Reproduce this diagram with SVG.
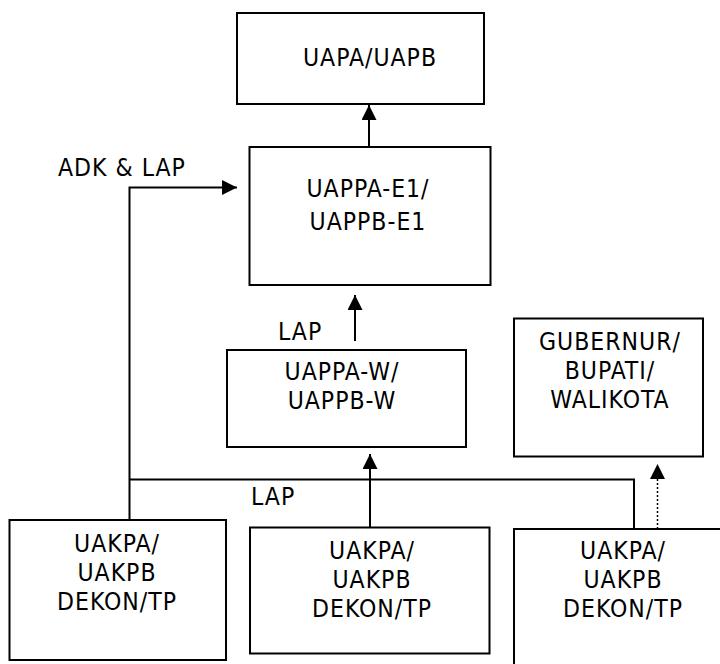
<svg xmlns="http://www.w3.org/2000/svg" width="720" height="664" viewBox="0 0 720 664">
<style>
.box{fill:#fff;stroke:#000;stroke-width:2}
.t{font-family:"DejaVu Sans Condensed","DejaVu Sans",sans-serif;font-stretch:condensed;font-size:24.5px;letter-spacing:1px;fill:#000}
.m{text-anchor:middle}
.c{fill:none;stroke:#000;stroke-width:2}
.d{fill:none;stroke:#000;stroke-width:1.5;stroke-dasharray:2 2}
</style>
<defs>
<marker id="ah" markerUnits="userSpaceOnUse" markerWidth="17" markerHeight="17" refX="15" refY="7.5" orient="auto">
<path d="M0,0 L15,7.5 L0,15 z" fill="#000"/>
</marker>
</defs>
<rect width="720" height="664" fill="#fff"/>
<g id="connectors">
<path class="c" d="M369,147 V105" marker-end="url(#ah)"/>
<path class="c" d="M129.5,520 V187.5 H237" marker-end="url(#ah)"/>
<path class="c" d="M355,341 V295" marker-end="url(#ah)"/>
<path class="c" d="M370,527 V454" marker-end="url(#ah)"/>
<path class="c" d="M129.5,479.5 H634 V529"/>
<path class="d" d="M657.5,537 V470"/>
<path d="M650,479 L657.5,464 L665,479 z" fill="#000"/>
</g>
<g id="uapa">
<rect class="box" x="237" y="13" width="247" height="91"/>
<text class="t m" x="370" y="66">UAPA/UAPB</text>
</g>
<g id="uappa-e1">
<rect class="box" x="249.5" y="147" width="241" height="138"/>
<text class="t m" x="368" y="197">UAPPA-E1/</text>
<text class="t m" x="368" y="230">UAPPB-E1</text>
</g>
<g id="label-adk">
<text class="t" x="58" y="176">ADK &amp; LAP</text>
</g>
<g id="label-lap1">
<text class="t" x="278" y="340">LAP</text>
</g>
<g id="uappa-w">
<rect class="box" x="227" y="350" width="239" height="97"/>
<text class="t m" x="342" y="380">UAPPA-W/</text>
<text class="t m" x="342" y="409">UAPPB-W</text>
</g>
<g id="gubernur">
<rect class="box" x="514" y="318.5" width="189" height="138"/>
<text class="t m" x="610" y="350">GUBERNUR/</text>
<text class="t m" x="610" y="379">BUPATI/</text>
<text class="t m" x="610" y="408">WALIKOTA</text>
</g>
<g id="label-lap2">
<text class="t" x="251" y="505">LAP</text>
</g>
<g id="uakpa1">
<rect class="box" x="9.5" y="520" width="216.5" height="140"/>
<text class="t m" x="117" y="552">UAKPA/</text>
<text class="t m" x="117" y="581">UAKPB</text>
<text class="t m" x="117" y="610">DEKON/TP</text>
</g>
<g id="uakpa2">
<rect class="box" x="250" y="527.5" width="239.5" height="126"/>
<text class="t m" x="372" y="559">UAKPA/</text>
<text class="t m" x="372" y="588">UAKPB</text>
<text class="t m" x="372" y="617">DEKON/TP</text>
</g>
<g id="uakpa3">
<rect class="box" x="514" y="529" width="220" height="150"/>
<text class="t m" x="623" y="559">UAKPA/</text>
<text class="t m" x="623" y="588">UAKPB</text>
<text class="t m" x="623" y="617">DEKON/TP</text>
</g>
</svg>
